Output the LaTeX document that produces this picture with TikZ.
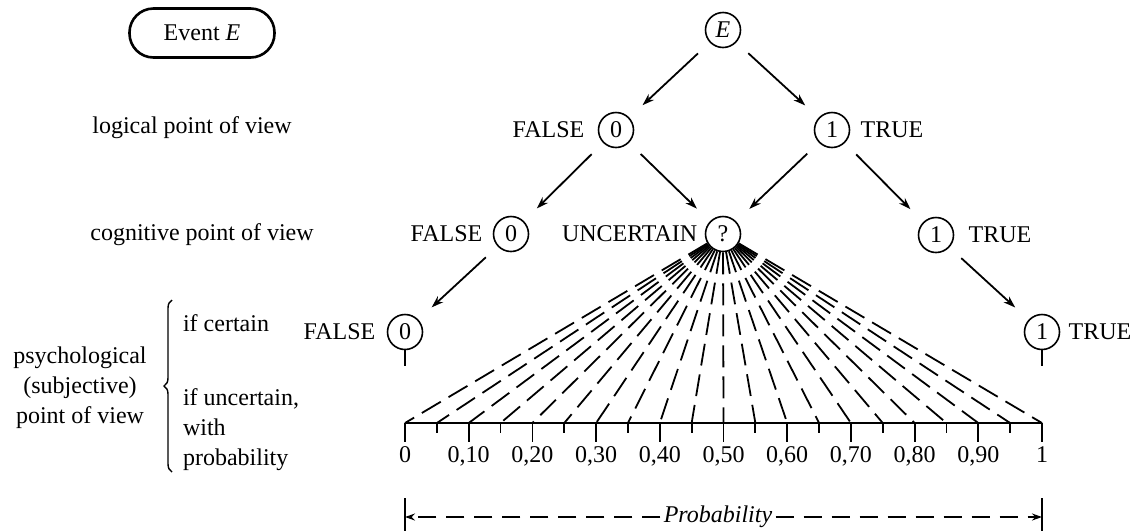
\documentclass[tikz,border=0pt]{standalone}
\usepackage{fontspec}
\setmainfont{Liberation Serif}
\usetikzlibrary{positioning,arrows.meta,decorations.pathreplacing}

\begin{document}
\begin{tikzpicture}[x=0.5pt,y=-0.5pt,font=\fontsize{12}{15}\selectfont]
  % Base settings
  \tikzset{
    val/.style={circle, draw, line width=0.8pt, minimum size=17.5pt, inner sep=0pt},
    tag/.style={inner sep=0pt},
    branch/.style={line width=0.9pt, -{Stealth[length=6pt,width=4pt]},
                   shorten <=8pt, shorten >=9pt},
    fan/.style={line width=0.9pt, dash pattern=on 11pt off 4.5pt},
    axtick/.style={line width=0.9pt},
    span/.style={line width=0.9pt, dash pattern=on 9pt off 5pt,
                 -{Stealth[length=5pt,width=3.5pt]}}
  }
  \useasboundingbox (0,0) rectangle (1133,531);

  % --- Event box ---
  \node[draw, rounded corners=12pt, line width=1.3pt, minimum width=72.5pt,
        minimum height=24.5pt] (event) at (202,33) {Event \textit{E}};

  % --- Tree ---
  \node[val] (e)  at (723,30)  {\textit{E}};
  \node[val] (l0) at (616,130) {0};
  \node[val] (l1) at (832,130) {1};
  \node[val] (c0) at (511,234) {0};
  \node[val] (q)  at (723,234) {?};
  \node[val] (c1) at (936,235) {1};
  \node[val] (p0) at (405,332) {0};
  \node[val] (p1) at (1042,332) {1};

  \node[tag, left=6.5pt of l0]  (l0txt) {FALSE};
  \node[tag, right=5pt of l1]   (l1txt) {TRUE};
  \node[tag, left=5pt of c0]    (c0txt) {FALSE};
  \node[tag, left=3.5pt of q]   (qtxt)  {UNCERTAIN};
  \node[tag, right=7pt of c1]   (c1txt) {TRUE};
  \node[tag, left=5.5pt of p0]  (p0txt) {FALSE};
  \node[tag, right=4pt of p1]   (p1txt) {TRUE};

  \draw[branch] (e) -- (l0);
  \draw[branch] (e) -- (l1);
  \draw[branch] (l0) -- (c0);
  \draw[branch] (l0) -- (q);
  \draw[branch] (l1) -- (q);
  \draw[branch] (l1) -- (c1);
  \draw[branch] (c0) -- (p0);
  \draw[branch] (c1) -- (p1);

  \draw[axtick] (p0.south) -- ++(0,16);
  \draw[axtick] (p1.south) -- ++(0,16);

  % --- Left labels ---
  \node (logic) at (192,128) {logical point of view};
  \node (cogn)  at (202,235) {cognitive point of view};
  \node[align=center] (psych) at (80,388) {psychological\\(subjective)\\point of view};
  \draw[line width=0.7pt, decorate, decoration={brace, amplitude=4pt}]
    (172,472) -- (172,300);
  \node[anchor=west] (cert) at (176,323) {if certain};
  \node[anchor=west, align=left] (uncert) at (176,430) {if uncertain,\\with\\probability};

  % --- Probability axis ---
  \foreach \i in {0,...,20}
    \coordinate (t\i) at ({405+31.85*\i},423);
  \draw[axtick] (t0) -- (t20);
  \foreach \i in {1,3,...,19}
    \draw[axtick] (t\i) -- ++(0,10);
  \foreach \i in {0,2,...,20}
    \draw[axtick] (t\i) -- ++(0,19) coordinate (b\i);
  \node[below, inner sep=2pt] (lab0) at (b0) {0};
  \foreach \i in {2,4,...,18} {
    \pgfmathtruncatemacro\pct{5*\i}
    \node[below, inner sep=2pt] (lab\i) at (b\i) {0,\pct};
  }
  \node[below, inner sep=2pt] (lab20) at (b20) {1};

  % --- Fan of uncertain values ---
  \foreach \i in {0,...,20}
    \draw[fan] (q) -- (t\i);

  % --- Probability span ---
  \coordinate (pl) at (405,517);
  \coordinate (pr) at (1042,517);
  \node[inner sep=1.5pt] (prob) at (718,517) {\textit{Probability}};
  \draw[axtick] ([yshift=9.5pt]pl) -- ([yshift=-7pt]pl);
  \draw[axtick] ([yshift=9.5pt]pr) -- ([yshift=-7pt]pr);
  \draw[span] (prob) -- (pl);
  \draw[span] (prob) -- (pr);

\end{tikzpicture}
\end{document}
